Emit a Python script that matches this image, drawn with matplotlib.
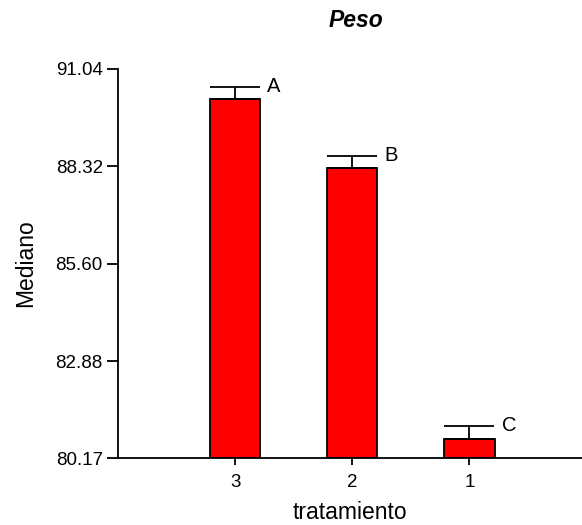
import numpy as np
import matplotlib
matplotlib.use("Agg")
import matplotlib.pyplot as plt

plt.rcParams['font.family'] = ['Liberation Sans', 'DejaVu Sans']

# datos
tratamientos = ['3', '2', '1']
medianas = [90.20, 88.26, 80.70]
errores = [0.34, 0.36, 0.37]
letras = ['A', 'B', 'C']
yticks = [80.17, 82.88, 85.60, 88.32, 91.04]

fig = plt.figure(figsize=(5.82, 5.25), dpi=100)
ax = fig.add_axes([0.2028, 0.1276, 0.797, 0.741])

x = np.arange(len(tratamientos))
ancho = 0.43
ax.bar(x, [m - yticks[0] for m in medianas], width=ancho, bottom=yticks[0],
       color='#ff0000', edgecolor='black', linewidth=1.3, zorder=2)
ax.errorbar(x, medianas, yerr=[np.zeros(len(x)), errores], fmt='none',
            ecolor='black', elinewidth=1.3, capsize=18, capthick=1.3, zorder=3)
for xi, m, e, l in zip(x, medianas, errores, letras):
    ax.text(xi + ancho / 2 + 0.06, m + e, l, fontsize=14.5, va='center', ha='left')

ax.set_xlim(-1, 2.96)
ax.set_ylim(yticks[0], yticks[-1])
ax.set_yticks(yticks)
ax.set_yticklabels(['%.2f' % t for t in yticks])
ax.set_xticks(x)
ax.set_xticklabels(tratamientos)
ax.tick_params(labelsize=13.5, width=1.3, color='black')
ax.tick_params(axis='y', length=8, pad=3)
ax.tick_params(axis='x', length=5, pad=6.5)
for s in ['top', 'right']:
    ax.spines[s].set_visible(False)
for s in ['left', 'bottom']:
    ax.spines[s].set_linewidth(1.3)

ax.set_xlabel('tratamiento', fontsize=16.5, labelpad=7.5)
ax.set_ylabel('Mediano', fontsize=16.5, labelpad=13.5)
ax.set_title('Peso', fontsize=16.5, fontweight='bold', fontstyle='italic',
             pad=30, x=0.513)

fig.savefig('out.png', dpi=100)
